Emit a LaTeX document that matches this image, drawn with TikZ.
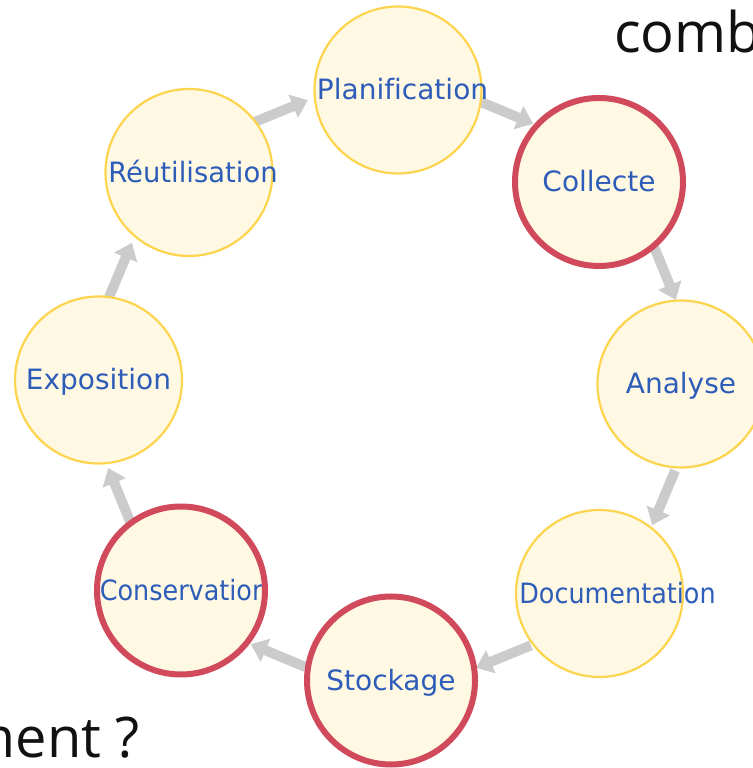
\documentclass[tikz,border=0pt]{standalone}
\usepackage{fontspec}
\setmainfont[Ligatures=NoCommon]{DejaVu Sans}
\newfontfamily\slidefont{Open Sans}
\usetikzlibrary{arrows.meta,calc}
\definecolor{ringfill}{HTML}{FFF8E3}
\definecolor{ringedge}{HTML}{FDD44E}
\definecolor{keyred}{HTML}{D04A5C}
\definecolor{labelblue}{HTML}{2D5DB8}
\definecolor{flowgray}{HTML}{CBCBCB}
\definecolor{slideink}{HTML}{111111}
\begin{document}
\begin{tikzpicture}[x=1pt,y=1pt,
  stage/.style={circle, fill=ringfill, draw=ringedge, line width=2.2pt,
    minimum size=167pt, inner sep=0pt},
  stagetext/.style={text=labelblue, font=\fontsize{28}{30}\selectfont,
    inner sep=0pt, text height=20pt, text depth=0pt},
  keyring/.style={draw=keyred, line width=6pt},
  flow/.style={draw=flowgray, line width=10pt,
    -{Triangle[width=24pt,length=16pt]}},
  slidetext/.style={text=slideink, inner sep=0pt,
    font=\slidefont\fontsize{56}{60}\selectfont}]
\useasboundingbox (0,0) rectangle (752,768);
\coordinate (ring) at (392,384);

% connectors along the ring
\foreach \m in {112.5,67.5,22.5,-22.5,-67.5,-112.5,-157.5,-202.5}{
  \draw[flow] ($(ring)+(\m+5.5:296)$) -- ($(ring)+(\m-6:296)$);
}

% stages
\node[stage] (plan) at (398,678) {};
\node[stage] (coll) at (599,586) {};
\node[stage] (anal) at (681,384) {};
\node[stage] (doc)  at (599.5,174.5) {};
\node[stage] (stock) at (391,87.5) {};
\node[stage] (cons) at (181,177.5) {};
\node[stage] (expo) at (98.5,388) {};
\node[stage] (reut) at (189,595.5) {};

\node[stagetext, xshift=4.5pt] (planL) at (plan) {Planification};
\node[stagetext] (collL) at (coll) {Collecte};
\node[stagetext] (analL) at (anal) {Analyse};
\node[stagetext, xshift=18pt] (docL) at (doc) {\scalebox{0.91}[1]{Documentation}};
\node[stagetext] (stockL) at (stock) {Stockage};
\node[stagetext, xshift=3pt] (consL) at (cons) {\scalebox{0.91}[1]{Conservation}};
\node[stagetext] (expoL) at (expo) {Exposition};
\node[stagetext, xshift=4pt] (reutL) at (reut) {\scalebox{0.98}[1]{Réutilisation}};

% highlighted stages
\draw[keyring] (coll.center) circle[radius=84];
\draw[keyring] (stock.center) circle[radius=84];
\draw[keyring] (cons.center) circle[radius=84];

% cut-off slide text
\node[slidetext, anchor=base west] (comb) at (614,715) {comb};
\node[slidetext, anchor=base east] (ment) at (140,10) {ment ?};
\end{tikzpicture}
\end{document}
